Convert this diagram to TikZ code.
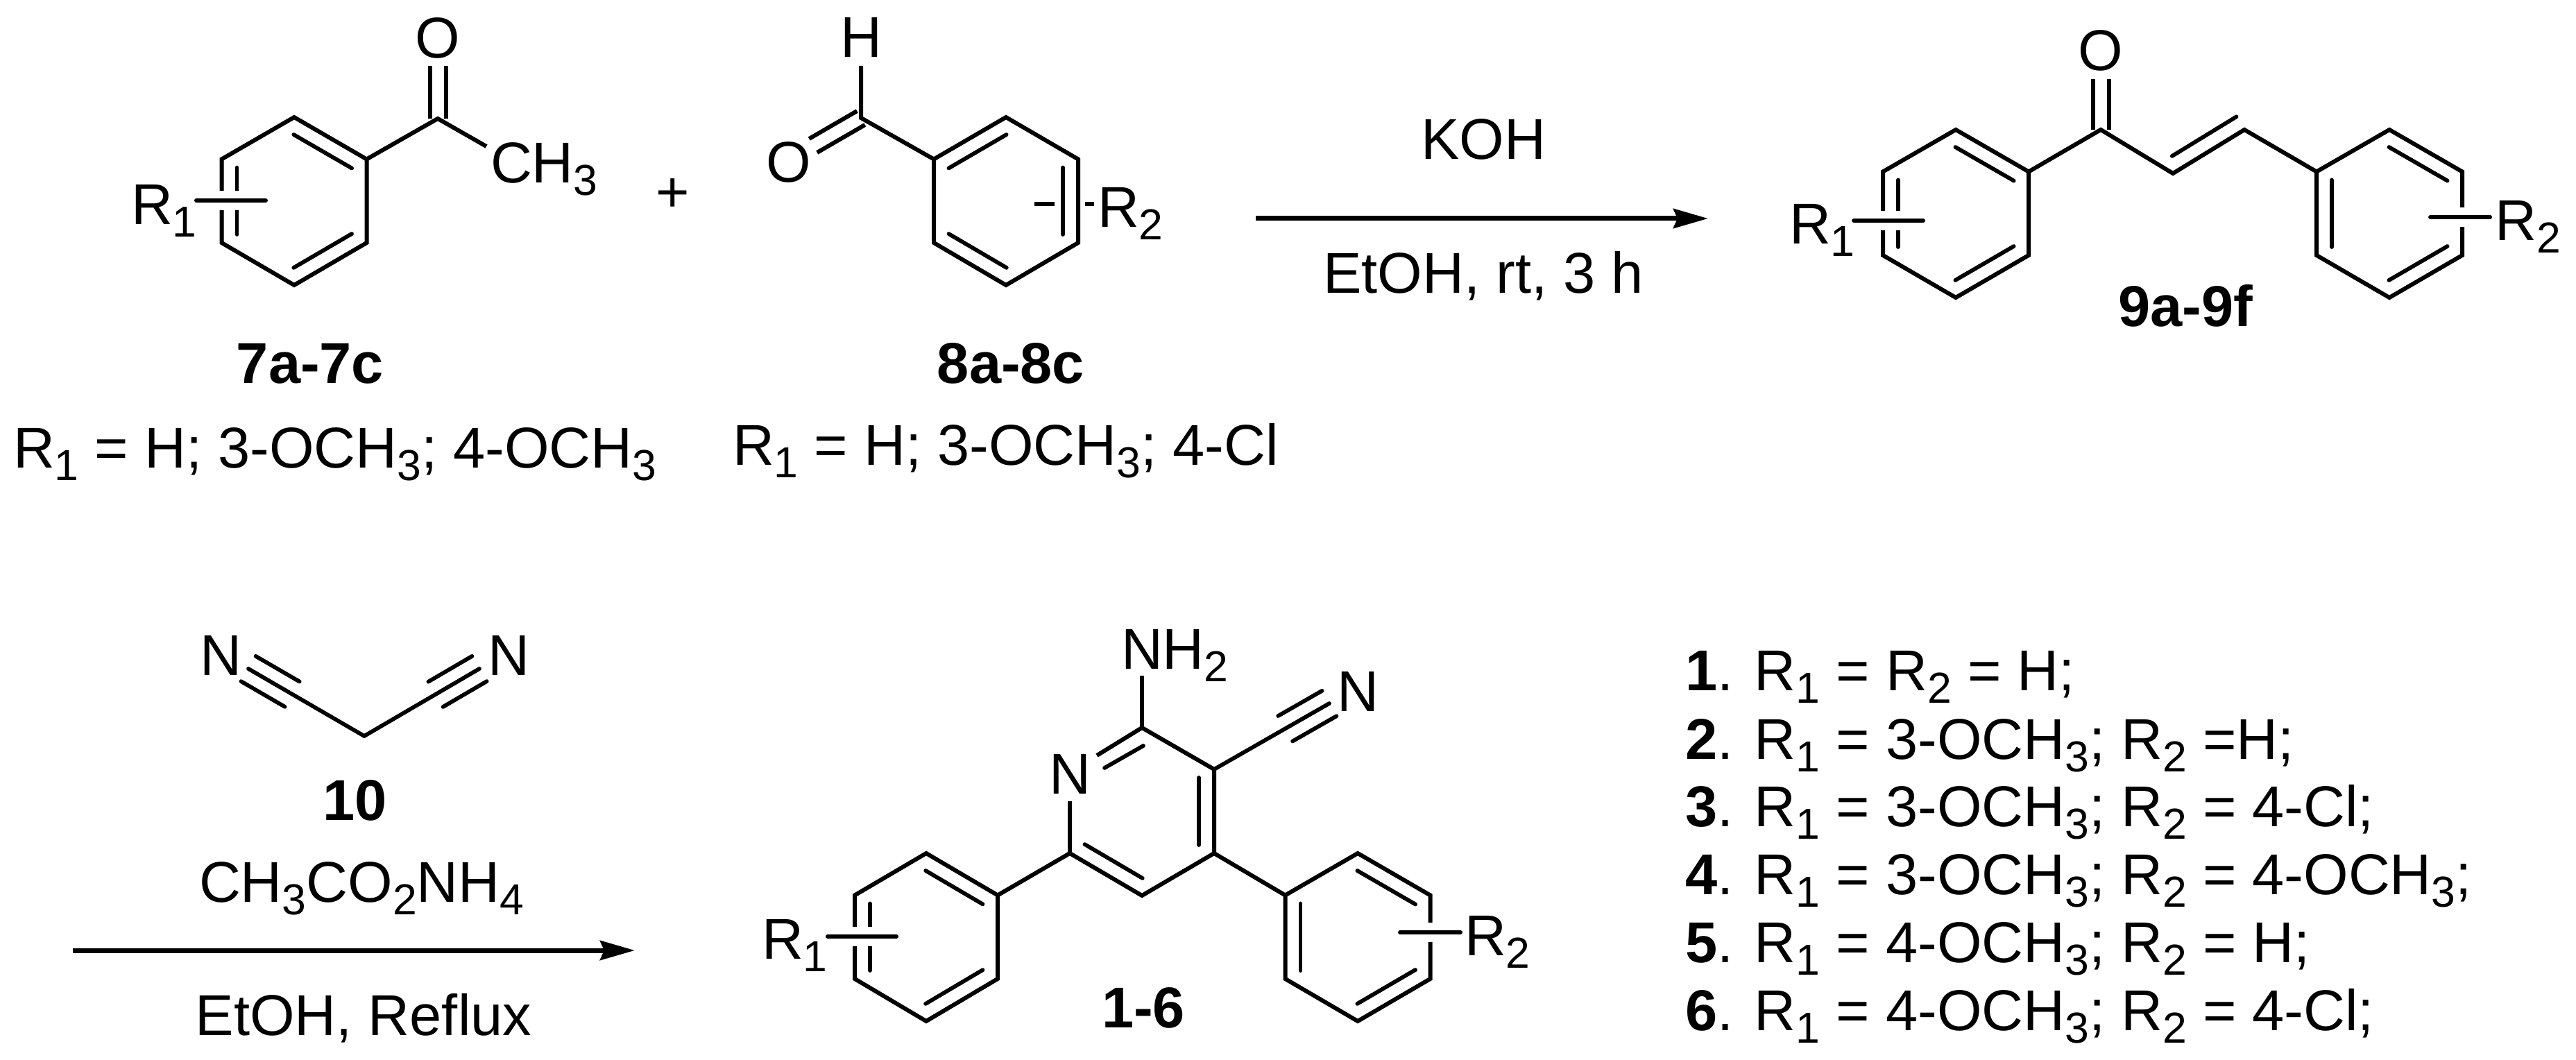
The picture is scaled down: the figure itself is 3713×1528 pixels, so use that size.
\documentclass[tikz,border=0pt]{standalone}
\usepackage{fontspec}
\setmainfont{Liberation Sans}
\usetikzlibrary{calc,arrows.meta}
\newcommand{\sbs}[1]{\raisebox{-3.6pt}{\fontsize{12.5}{12.5}\selectfont #1}}
\tikzset{
  bond/.style={line width=1.2pt,line join=miter,line cap=butt},
  inner/.style={line width=1.15pt,line cap=round,shorten <=2.4pt,shorten >=2.4pt},
  sidebond/.style={line width=1.15pt,line cap=round},
  halo/.style={line width=1.2pt,line cap=round,preaction={draw=white,line width=5.6pt,line cap=butt}},
  rxn/.style={line width=1.4pt,-{Stealth[length=10pt,width=5.6pt,inset=1.2pt]}},
  lab/.style={inner sep=0pt,outer sep=0pt,anchor=base west,font=\fontsize{16.6}{16.6}\selectfont},
  clab/.style={lab,anchor=base},
  blab/.style={clab,font=\fontsize{16.6}{16.6}\selectfont\bfseries}
}
% hexagon: name, centre x, half width, top y
\newcommand{\hexa}[4]{%
  \coordinate (#1t) at ({#2},{#4});
  \coordinate (#1ur) at ({#2+#3},{#4+60.5});
  \coordinate (#1lr) at ({#2+#3},{#4+181});
  \coordinate (#1b) at ({#2},{#4+242});
  \coordinate (#1ll) at ({#2-#3},{#4+181});
  \coordinate (#1ul) at ({#2-#3},{#4+60.5});
  \draw[bond] (#1t) -- (#1ur) -- (#1lr) -- (#1b) -- (#1ll) -- (#1ul) -- cycle;
}
% inner line of a double bond, on the left of a->b as seen on the page
\newcommand{\dbl}[3][]{\draw[inner,#1] ($(#2)!4.4pt!90:(#3)$) -- ($(#3)!4.4pt!-90:(#2)$);}
% C=O drawn as two parallel lines
\newcommand{\coxo}[2]{%
  \draw[bond] ($(#1)!2.3pt!90:(#2)$) -- ($(#2)!2.3pt!-90:(#1)$);
  \draw[bond] ($(#1)!2.3pt!-90:(#2)$) -- ($(#2)!2.3pt!90:(#1)$);}
% nitrile: main bond and two side lines next to the free end
\newcommand{\cyano}[2]{%
  \draw[sidebond] (#1) -- (#2);
  \draw[sidebond] ($(#2)!4.2pt!90:(#1)$) -- ($(#2)!14.6pt!(#1)!4.2pt!90:(#1)$);
  \draw[sidebond] ($(#2)!4.2pt!-90:(#1)$) -- ($(#2)!14.6pt!(#1)!4.2pt!-90:(#1)$);}
\begin{document}
\begin{tikzpicture}[x=0.2pt,y=-0.2pt]
\useasboundingbox (0,0) rectangle (3713,1528);
\fill[white] (0,0) rectangle (3713,1528);

%% ---- 7a-7c
\hexa{a}{424}{104.5}{169}
\dbl{aur}{at}\dbl{aul}{all}\dbl{ab}{alr}
\coordinate (ac) at (631,171);
\coordinate (ame) at (701,211);
\coordinate (aoe) at (631,95);
\coordinate (asa) at (283,289);
\coordinate (asb) at (383,289);
\draw[bond] (aur) -- (ac) -- (ame);
\coxo{ac}{aoe}
\draw[halo] (asa) -- (asb);
\node[clab] (ao) at (631,84) {O};
\node[lab] (ach3) at (707,264) {CH\sbs{3}};
\node[lab] (ar1) at (189,324) {R\sbs{1}};
\node[blab] (a7) at (447,553) {7a-7c};
\node[lab] (ar) at (19,675) {R\sbs{1} = H; 3-OCH\sbs{3}; 4-OCH\sbs{3}};
\node[clab] (plus) at (970,306) {+};

%% ---- 8a-8c
\hexa{b}{1450}{104}{169}
\dbl{bt}{bul}\dbl{blr}{bur}\dbl{bll}{bb}
\coordinate (bc) at (1241,170);
\coordinate (bhe) at (1241,95);
\coordinate (boe) at (1172,210);
\coordinate (bsa) at (1491,294);
\coordinate (bsb) at (1520,294);
\coordinate (bsc) at (1564,294);
\coordinate (bsd) at (1577,294);
\draw[bond] (bul) -- (bc) -- (bhe);
\coxo{bc}{boe}
\draw[bond] (bsa) -- (bsb);
\draw[bond] (bsc) -- (bsd);
\node[clab] (bh) at (1241,83) {H};
\node[clab] (bo) at (1137,263) {O};
\node[lab] (br2) at (1582,328) {R\sbs{2}};
\node[blab] (b8) at (1457,553) {8a-8c};
\node[lab] (br) at (1056,671) {R\sbs{1} = H; 3-OCH\sbs{3}; 4-Cl};

%% ---- arrow 1
\coordinate (r1a) at (1810,315);
\coordinate (r1b) at (2462,315);
\draw[rxn] (r1a) -- (r1b);
\node[clab] (koh) at (2138,230) {KOH};
\node[clab] (etoh1) at (2138,423) {EtOH, rt, 3 h};

%% ---- 9a-9f
\hexa{c}{2819}{105}{187}
\hexa{d}{3444}{105}{187}
\dbl{cur}{ct}\dbl{cul}{cll}\dbl{cb}{clr}
\dbl{dul}{dll}\dbl{dur}{dt}\dbl{db}{dlr}
\coordinate (cc) at (3028,187);
\coordinate (coe) at (3028,114);
\coordinate (cx) at (3132,250);
\coordinate (cy) at (3235,187);
\coordinate (csa) at (2672,318);
\coordinate (csb) at (2772,318);
\coordinate (dsa) at (3503,313);
\coordinate (dsb) at (3589,313);
\draw[bond] (cur) -- (cc) -- (cx) -- (cy) -- (dul);
\coxo{cc}{coe}
\dbl[shorten >=0pt]{cx}{cy}
\draw[halo] (csa) -- (csb);
\draw[halo] (dsa) -- (dsb);
\node[clab] (co) at (3028,102) {O};
\node[lab] (cr1) at (2579,352) {R\sbs{1}};
\node[lab] (dr2) at (3596,347) {R\sbs{2}};
\node[blab] (c9) at (3150,471) {9a-9f};

%% ---- 10
\coordinate (mc) at (525,1061);
\coordinate (ml) at (358,964);
\coordinate (mr) at (691,964);
\cyano{mc}{ml}
\cyano{mc}{mr}
\node[clab] (mnl) at (318,973) {N};
\node[clab] (mnr) at (733,973) {N};
\node[blab] (m10) at (512,1182) {10};
\node[lab] (ammo) at (287,1300) {CH\sbs{3}CO\sbs{2}NH\sbs{4}};

%% ---- arrow 2
\coordinate (r2a) at (105,1370);
\coordinate (r2b) at (915,1370);
\draw[rxn] (r2a) -- (r2b);
\node[clab] (etoh2) at (524,1492) {EtOH, Reflux};

%% ---- 1-6
\coordinate (p2) at (1646,1049);
\coordinate (p3) at (1750,1109);
\coordinate (p4) at (1750,1230);
\coordinate (p5) at (1646,1291);
\coordinate (p6) at (1542,1230);
\coordinate (pne) at (1542,1155);
\coordinate (pn1) at (1581,1089);
\coordinate (pi1) at (1648,1075);
\coordinate (pi2) at (1592,1107);
\coordinate (pna) at (1646,974);
\coordinate (pcn) at (1916,1014);
\draw[bond] (pn1) -- (p2) -- (p3) -- (p4) -- (p5) -- (p6) -- (pne);
\draw[sidebond] (pi1) -- (pi2);
\draw[bond] (p2) -- (pna);
\dbl{p4}{p3}\dbl{p6}{p5}
\cyano{p3}{pcn}
\node[clab] (pn) at (1542,1144) {N};
\node[lab] (pnh) at (1616,965) {NH\sbs{2}};
\node[lab] (pnn) at (1927,1025) {N};
\hexa{e}{1335}{103}{1230}
\hexa{f}{1957}{104.5}{1230}
\dbl{eur}{et}\dbl{eul}{ell}\dbl{eb}{elr}
\dbl{ful}{fll}\dbl{fur}{ft}\dbl{fb}{flr}
\draw[bond] (p6) -- (eur);
\draw[bond] (p4) -- (ful);
\coordinate (esa) at (1193,1350);
\coordinate (esb) at (1292,1350);
\coordinate (fsa) at (2018,1344);
\coordinate (fsb) at (2105,1344);
\draw[halo] (esa) -- (esb);
\draw[halo] (fsa) -- (fsb);
\node[lab] (er1) at (1098,1382) {R\sbs{1}};
\node[lab] (fr2) at (2111,1377) {R\sbs{2}};
\node[blab] (p16) at (1648,1481) {1-6};

%% ---- list
\node[lab] (l1) at (2429,996) {\textbf{1}. R\sbs{1} = R\sbs{2} = H;};
\node[lab] (l2) at (2429,1094) {\textbf{2}. R\sbs{1} = 3-OCH\sbs{3}; R\sbs{2} =H;};
\node[lab] (l3) at (2429,1191) {\textbf{3}. R\sbs{1} = 3-OCH\sbs{3}; R\sbs{2} = 4-Cl;};
\node[lab] (l4) at (2429,1289) {\textbf{4}. R\sbs{1} = 3-OCH\sbs{3}; R\sbs{2} = 4-OCH\sbs{3};};
\node[lab] (l5) at (2429,1387) {\textbf{5}. R\sbs{1} = 4-OCH\sbs{3}; R\sbs{2} = H;};
\node[lab] (l6) at (2429,1485) {\textbf{6}. R\sbs{1} = 4-OCH\sbs{3}; R\sbs{2} = 4-Cl;};
\end{tikzpicture}
\end{document}
